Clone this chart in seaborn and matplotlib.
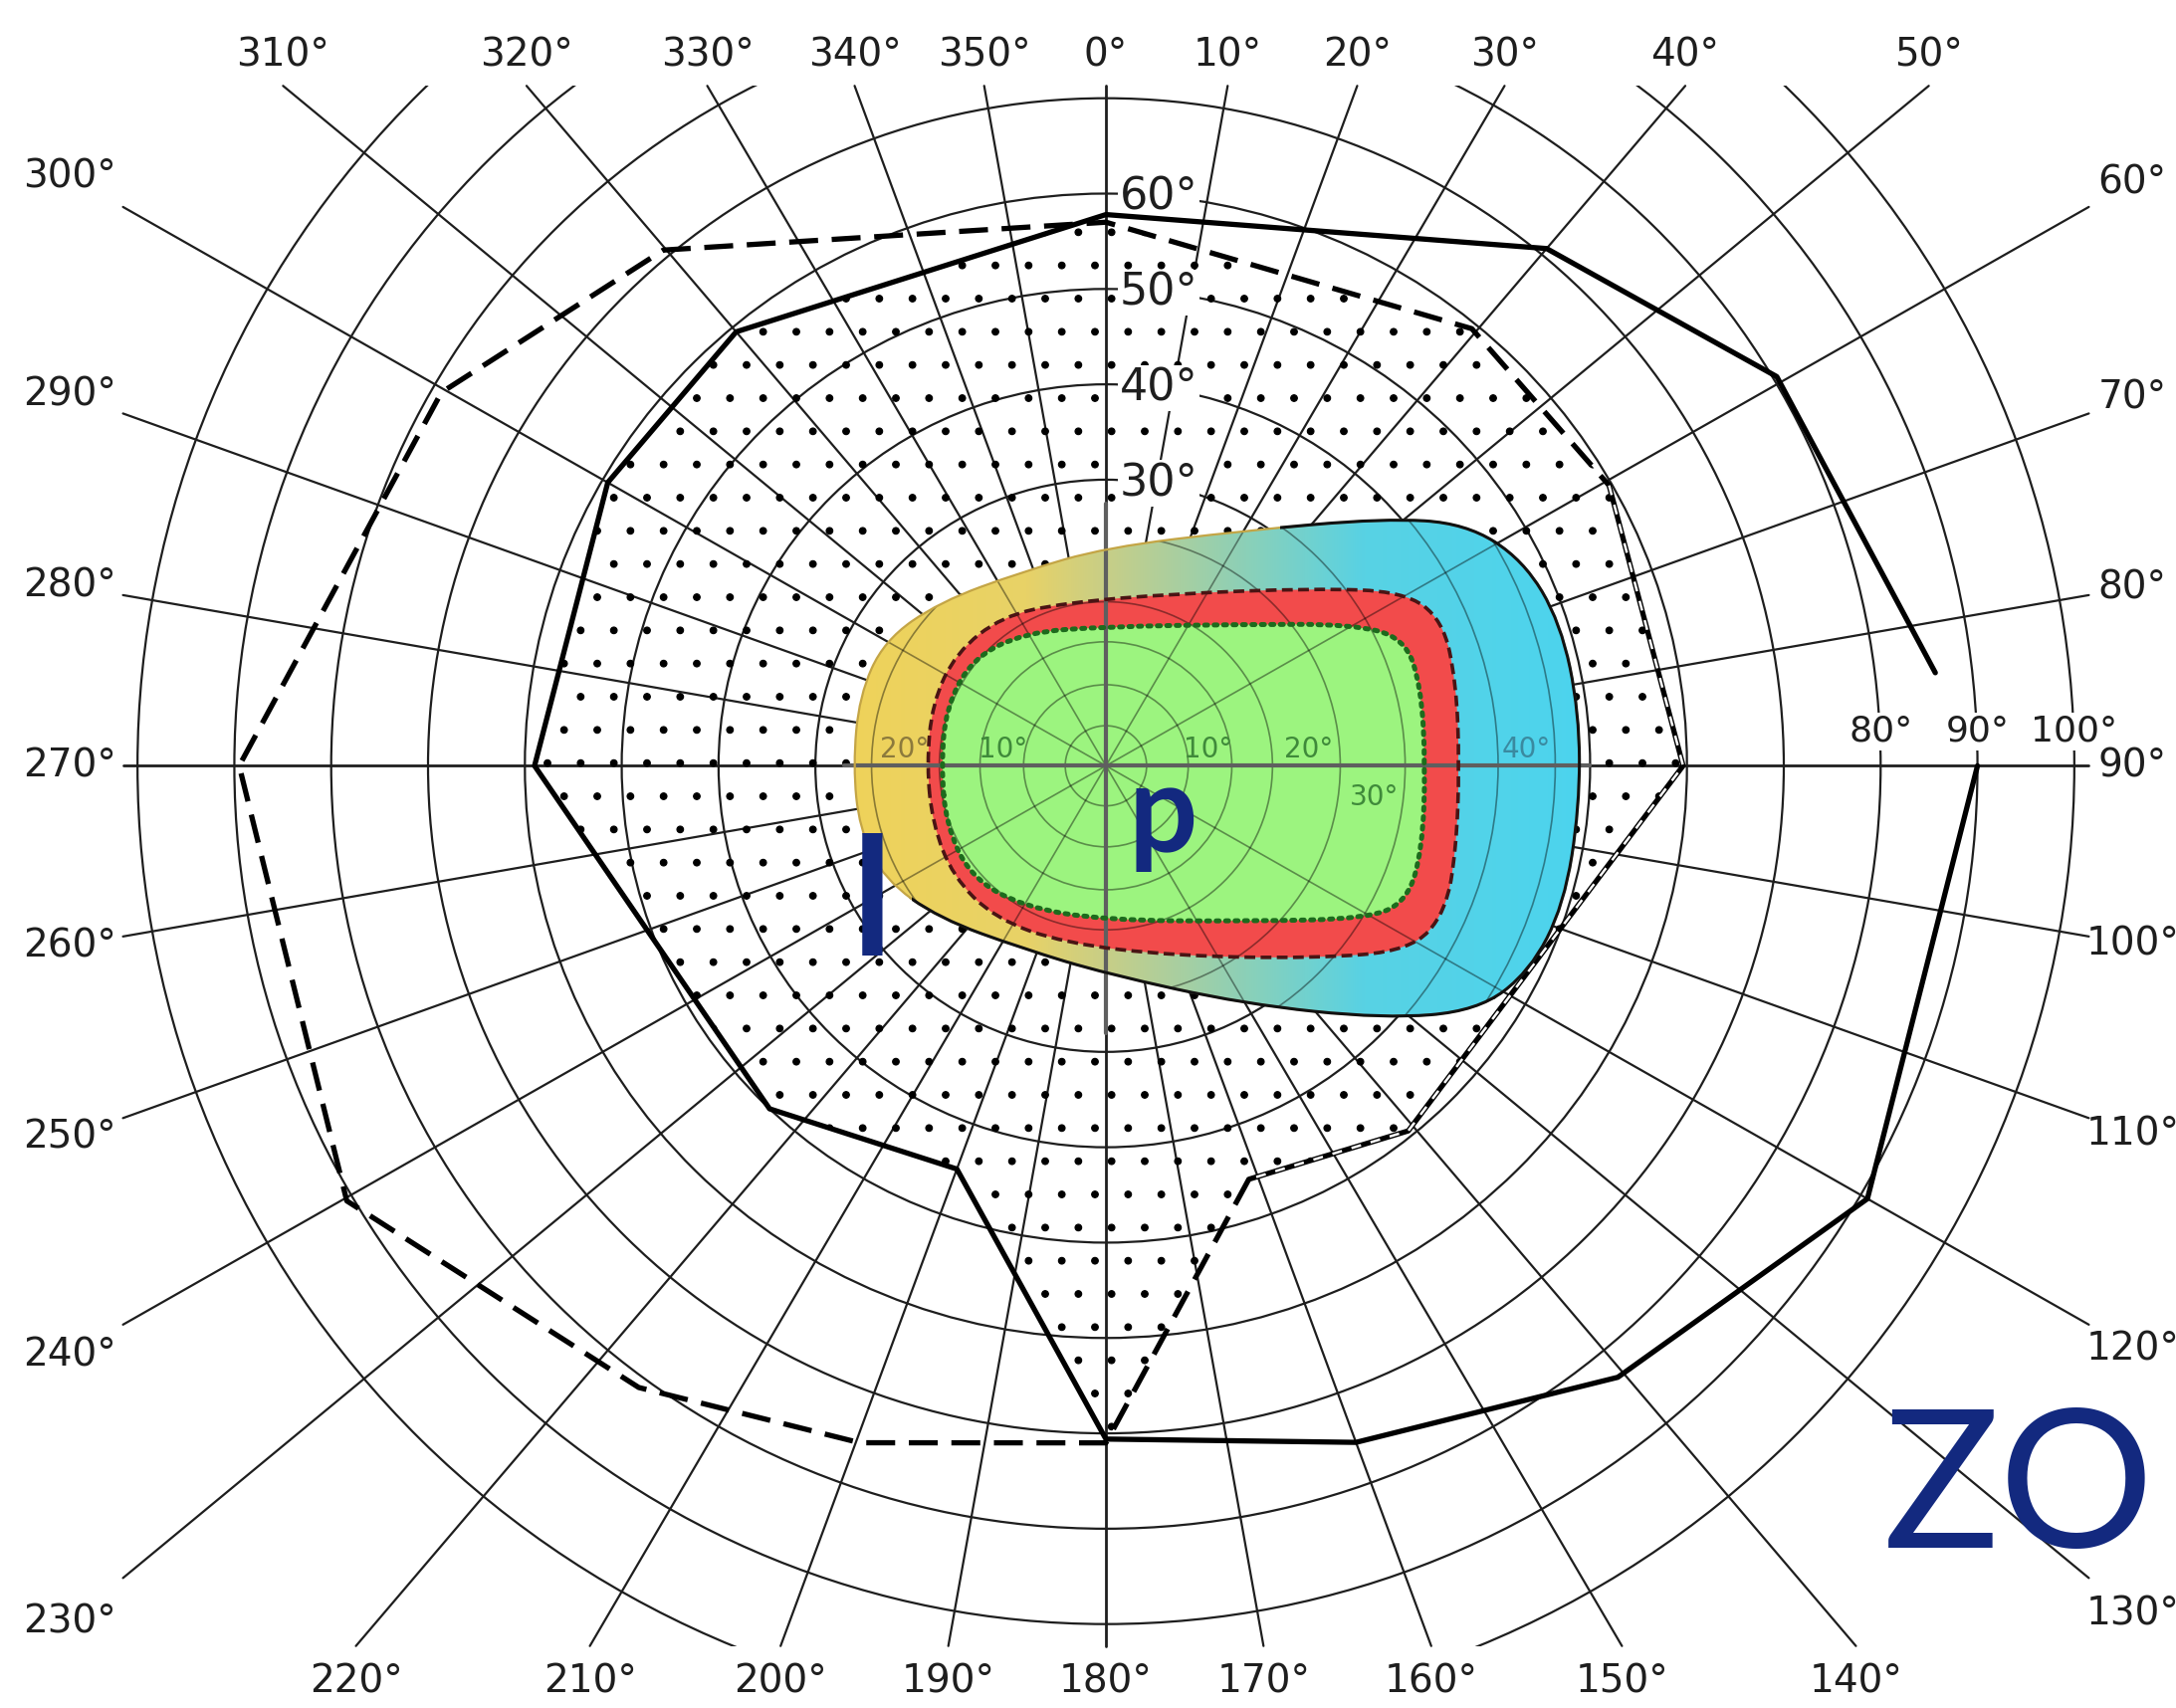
import numpy as np
import pandas as pd
import matplotlib
matplotlib.use("Agg")
import matplotlib.pyplot as plt
import seaborn as sns
from matplotlib.path import Path
from matplotlib.patches import PathPatch, Rectangle, Ellipse
from matplotlib.colors import LinearSegmentedColormap

sns.set_theme(style="white")
plt.rcParams["font.family"] = ["DejaVu Sans"]
plt.rcParams["hatch.linewidth"] = 0.4

# ============================================================
# Data (meridian angle in degrees, eccentricity in degrees)
# ============================================================
grid_radii = [10, 20, 30, 40, 50, 60, 70, 80, 90, 100]
meridians = list(range(0, 360, 10))
vertical_ring_labels = [30, 40, 50, 60]
horizontal_ring_labels = [80, 90, 100]

# solid isopter (right eye)
solid_theta = [0, 40, 59.5, 83.5, 90, 120, 140.5, 160, 180, 200, 224, 270, 300, 320]
solid_r = [57.8, 70.8, 80.4, 86.2, 90, 90.8, 83.1, 75.5, 70.6, 45, 50, 59, 59.4, 59.4]

# dashed isopter (left eye)
dash_theta = [0, 39.5, 60.5, 90, 140.8, 161.2, 180, 199.7, 216.5, 239.8, 270, 299.7, 319.8]
dash_r = [57, 59.4, 59.7, 59.6, 49.4, 45.8, 71, 75.4, 81.1, 90.7, 89.5, 79, 70.8]

# coloured central zones
outer_theta = [270, 286, 299.8, 315, 337.1, 0, 30.1, 47.9, 55.6, 63.4, 72.3, 83.5,
               95.1, 107.1, 116.2, 123.8, 132.7, 150.2, 180, 204.1, 227.1, 242.5, 255.5]
outer_r = [26.1, 26.5, 26.4, 24.3, 22.1, 22.9, 28.5, 38.7, 45.0, 48.2, 49.3, 49.2,
           49.1, 49.5, 48.8, 46.2, 39.1, 28.8, 21.8, 21.0, 23.5, 25.8, 26.3]

red_theta = [270, 290.2, 307.5, 325.7, 346.2, 21.5, 49.1, 59.3, 66.3, 76.5, 90,
             103.5, 113.6, 121.6, 133.2, 160.1, 193.0, 215.7, 233.7, 251.2]
red_r = [18.5, 19.1, 19.5, 19.0, 17.6, 19.4, 28.4, 35.8, 38.0, 37.2, 36.5,
         37.2, 38.3, 37.0, 29.5, 21.2, 19.1, 19.7, 19.6, 18.9]

green_theta = [270, 290.3, 309.2, 329.0, 0, 43.4, 59.8, 66.5, 75.5, 90,
               104.9, 114.3, 120.5, 138.7, 180, 210.2, 230.4, 249.7]
green_r = [17.0, 17.6, 17.8, 16.3, 14.6, 20.4, 29.5, 33.6, 33.6, 33.0,
           33.8, 34.2, 31.6, 21.7, 16.2, 17.1, 18.2, 17.6]

# central chart grid
inner_radii = [4.2, 8.5, 13.0, 17.2, 24.2, 30.9, 40.5, 46.4]
inner_spokes = [30, 60, 120, 150, 210, 240, 300, 330]
inner_labels = ["20°", "10°", "10°", "20°", "30°", "40°"]
inner_label_x = [-20.8, -10.6, 10.5, 20.9, 27.7, 43.4]
inner_label_y = [1.7, 1.7, 1.7, 1.7, -3.3, 1.7]
inner_label_colors = ["#8c7a3c", "#3f8a3a", "#3f8a3a", "#3f8a3a", "#3f8a3a", "#3a8aa0"]

navy = "#13297f"


def to_xy(theta, r):
    t = np.radians(np.asarray(theta, dtype=float))
    r = np.asarray(r, dtype=float)
    return r * np.sin(t), r * np.cos(t)


def ray_to_box(theta, box):
    # distance along a meridian to the edge of a box, and which edge it hits
    x0, x1, y0, y1 = box
    s, c = np.sin(np.radians(theta)), np.cos(np.radians(theta))
    hits = []
    if s > 1e-9:
        hits.append((x1 / s, "right"))
    if s < -1e-9:
        hits.append((x0 / s, "left"))
    if c > 1e-9:
        hits.append((y1 / c, "top"))
    if c < -1e-9:
        hits.append((y0 / c, "bottom"))
    return min(hits)


def smooth_closed(theta, r):
    x, y = to_xy(theta, r)
    pts = np.column_stack([x, y])
    mids = (pts + np.roll(pts, -1, axis=0)) / 2
    verts = [mids[-1]]
    codes = [Path.MOVETO]
    for i in range(len(pts)):
        verts += [pts[i], mids[i]]
        codes += [Path.CURVE3, Path.CURVE3]
    return Path(verts, codes)


fig = plt.figure(figsize=(2186 / 200, 1716 / 200), dpi=200)
ax = fig.add_axes([0, 0, 1, 1])

# ============================================================
# Perimeter grid
# ============================================================
grid_box = (-101.5, 101.5, -92.3, 71.3)
clip_rect = Rectangle((grid_box[0], grid_box[2]), grid_box[1] - grid_box[0],
                      grid_box[3] - grid_box[2], transform=ax.transData)
for r in grid_radii:
    ring = Ellipse((0, 0), 2 * r, 2 * r, fill=False, ec="#1e1e1e", lw=0.8, zorder=1)
    ax.add_patch(ring)
    ring.set_clip_path(clip_rect)

for m in meridians:
    rend, _ = ray_to_box(m, grid_box)
    x, y = to_xy(m, [0, rend])
    ax.plot(x, y, color="#1e1e1e", lw=1.0 if m % 90 == 0 else 0.8, zorder=1)

# labels round the edge: sides follow a wider box, top/bottom sit above/below line ends
label_box = (-107, 106, -96, 74.5)
for m in meridians:
    rl, side = ray_to_box(m, label_box)
    x, y = to_xy(m, rl)
    if side in ("top", "bottom"):
        rg, _ = ray_to_box(m, grid_box)
        x, _ = to_xy(m, rg)
    ax.text(x, y, f"{m}°", ha="center", va="center", fontsize=14, color="#1e1e1e")

for v in vertical_ring_labels:
    ax.text(1.4, v - 0.4, f"{v}°", ha="left", va="center", fontsize=16, color="#1e1e1e",
            bbox=dict(fc="white", ec="none", pad=0.6), zorder=2.5)
for h in horizontal_ring_labels:
    ax.text(h, 3.6, f"{h}°", ha="center", va="center", fontsize=13, color="#1e1e1e",
            bbox=dict(fc="white", ec="none", pad=0.6), zorder=2.5)

# ============================================================
# Binocular overlap (stippled) and isopters
# ============================================================
sx, sy = to_xy(solid_theta, solid_r)
dx, dy = to_xy(dash_theta, dash_r)
spts = np.column_stack([sx, sy])
dpts = np.column_stack([dx, dy])

dash_patch = PathPatch(Path(np.vstack([dpts, dpts[:1]])), fc="none", ec="none",
                       transform=ax.transData)
ax.add_patch(dash_patch)
stipple = PathPatch(Path(np.vstack([spts, spts[:1]])), fc="none", ec="black",
                    lw=0, hatch=".", zorder=1.5)
ax.add_patch(stipple)
stipple.set_clip_path(dash_patch)

order = list(range(4, len(solid_theta))) + list(range(0, 4))
df_solid = pd.DataFrame({"x": sx[order], "y": sy[order]})
sns.lineplot(data=df_solid, x="x", y="y", sort=False, estimator=None,
             color="black", lw=1.9, ax=ax, zorder=3)

dash_order = [5, 6, 7, 8, 9, 10, 11, 12, 0, 1, 2]
df_dash = pd.DataFrame({"x": dx[dash_order], "y": dy[dash_order]})
sns.lineplot(data=df_dash, x="x", y="y", sort=False, estimator=None, color="black",
             lw=1.9, linestyle=(0, (5.5, 2.6)), ax=ax, zorder=3)

df_dash2 = pd.DataFrame({"x": dx[[2, 3, 4, 5]], "y": dy[[2, 3, 4, 5]]})
sns.lineplot(data=df_dash2, x="x", y="y", sort=False, estimator=None, color="black",
             lw=1.9, ax=ax, zorder=3)
sns.lineplot(data=df_dash2, x="x", y="y", sort=False, estimator=None, color="white",
             lw=0.9, linestyle=(0, (4, 4)), ax=ax, zorder=3.1)

# ============================================================
# Coloured central zones
# ============================================================
outer_path = smooth_closed(outer_theta, outer_r)
red_path = smooth_closed(red_theta, red_r)
green_path = smooth_closed(green_theta, green_r)

outer_patch = PathPatch(outer_path, fc="none", ec="none", transform=ax.transData)
ax.add_patch(outer_patch)

zone_cmap = LinearSegmentedColormap.from_list(
    "zone", [(0, "#efd35a"), (0.24, "#e8d267"), (0.36, "#c4ce8a"),
             (0.54, "#8bd0b8"), (0.70, "#58d2e4"), (1, "#4cd4ee")])
im = ax.imshow(np.linspace(0, 1, 256).reshape(1, -1), cmap=zone_cmap,
               extent=(-26.5, 49.5, -28, 28), aspect="auto", origin="lower",
               interpolation="bilinear", zorder=5)
im.set_clip_path(outer_patch)

ax.add_patch(PathPatch(red_path, fc="#f24b4b", ec="none", zorder=6))
ax.add_patch(PathPatch(green_path, fc="#9cf47f", ec="none", zorder=7))

for r in inner_radii:
    ring = Ellipse((0, 0), 2 * r, 2 * r, fill=False, ec="black", alpha=0.42,
                   lw=0.6, zorder=8)
    ax.add_patch(ring)
    ring.set_clip_path(outer_patch)
for a in inner_spokes:
    x, y = to_xy(a, [0, 60])
    ln, = ax.plot(x, y, color="black", alpha=0.42, lw=0.6, zorder=8)
    ln.set_clip_path(outer_patch)

ax.plot([-27, 50], [0, 0], color="#5f5f5f", lw=1.5, zorder=9)
ax.plot([0, 0], [-28, 27.5], color="#5f5f5f", lw=1.5, zorder=9)

ax.add_patch(PathPatch(outer_path, fc="none", ec="#c4a545", lw=0.8, zorder=9.5))
edge = PathPatch(outer_path, fc="none", ec="#111111", lw=1.1, zorder=9.6)
ax.add_patch(edge)
edge_clip = PathPatch(Path([(-20, -40), (60, -40), (60, 40), (18, 40), (18, 0), (-20, 0), (-20, -40)]),
                      transform=ax.transData)
edge.set_clip_path(edge_clip)
ax.add_patch(PathPatch(red_path, fc="none", ec="#4a1414", lw=1.3,
                       ls=(0, (3, 1.5)), zorder=9.5))
ax.add_patch(PathPatch(green_path, fc="none", ec="#1d6b1d", lw=1.8,
                       ls=(0, (0.6, 1.3)), capstyle="round", zorder=9.5))

for t, x, y, c in zip(inner_labels, inner_label_x, inner_label_y, inner_label_colors):
    ax.text(x, y, t, ha="center", va="center", fontsize=10, color=c, zorder=10)

ax.text(-26.2, -19.8, "l", fontsize=59, family=["Lato", "DejaVu Sans"],
        fontweight="bold", color=navy, ha="left", va="baseline", zorder=11)
ax.text(2.3, -8.9, "p", fontsize=44, family=["Lato", "DejaVu Sans"],
        fontweight="bold", color=navy, ha="left", va="baseline", zorder=11)
ax.text(80.3, -81.95, "ZO", fontsize=70, family=["Lato", "DejaVu Sans"],
        color=navy, ha="left", va="baseline", zorder=11)

ax.set_xlim(-114.2, 110.5)
ax.set_ylim(-98.8, 80.3)
ax.set_axis_off()

fig.savefig("out.png", dpi=200, facecolor="white")
